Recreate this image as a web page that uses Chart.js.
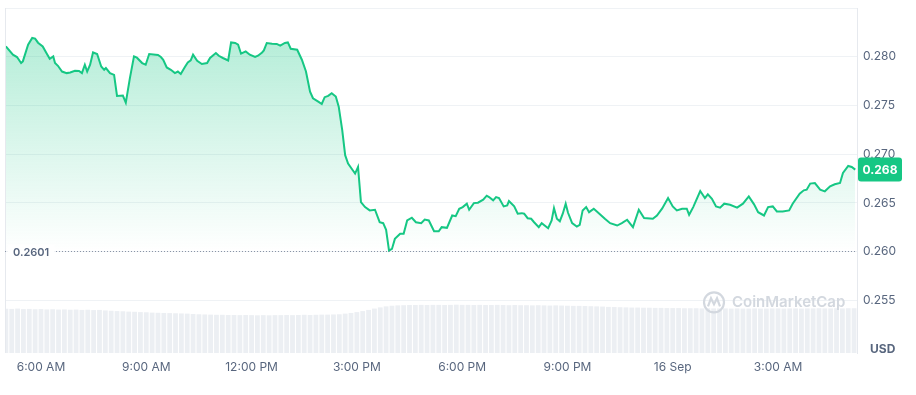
<!DOCTYPE html>
<html lang="en">
<head>
	<meta charset="UTF-8">
	<title>Price chart</title>
	<script src="https://cdn.jsdelivr.net/npm/chart.js"></script>
	<style>
		body { margin: 0; background: #fff; }
		#wrap { width: 916px; height: 395px; }
	</style>
</head>
<body>
	<div id="wrap"><canvas id="priceChart"></canvas></div>
	<script>
		// minutes since 00:00 on 15 Sep
		const priceTimes = [300,312,319,326,329,338,345,350,355,363,370,375,381,384,389,396,404,410,418,425,430,435,439,444,449,456,463,468,471,478,485,490,500,505,512,519,524,533,539,545,560,565,569,575,582,589,594,599,606,611,616,620,627,635,644,649,659,664,671,680,685,692,697,702,710,717,726,731,738,741,746,755,763,769,777,782,787,798,806,813,820,825,834,840,845,851,857,864,869,875,880,885,893,897,902,907,914,922,931,939,945,950,955,960,965,974,980,986,994,1001,1010,1016,1023,1032,1040,1045,1054,1063,1069,1075,1081,1088,1092,1100,1107,1116,1122,1126,1133,1138,1143,1151,1157,1160,1169,1175,1182,1186,1192,1198,1203,1211,1216,1227,1233,1237,1242,1247,1252,1257,1261,1268,1276,1281,1286,1292,1297,1305,1316,1324,1333,1345,1353,1362,1372,1382,1391,1406,1413,1422,1432,1440,1447,1456,1464,1468,1475,1487,1495,1500,1507,1514,1521,1528,1538,1550,1560,1570,1579,1586,1596,1603,1611,1618,1628,1639,1645,1657,1664,1669,1675,1683,1692,1700,1709,1717,1726,1731,1740,1746,1752];
		const prices = [0.28106,0.28021,0.27997,0.27935,0.27952,0.28124,0.28193,0.28186,0.28144,0.28106,0.28031,0.27979,0.28003,0.27935,0.27907,0.27848,0.27832,0.27838,0.27856,0.27853,0.27832,0.27918,0.27848,0.27918,0.28044,0.28028,0.27900,0.27866,0.27884,0.27832,0.27814,0.27598,0.27601,0.27529,0.27780,0.28003,0.27990,0.27935,0.27918,0.28028,0.28018,0.27997,0.27969,0.27890,0.27866,0.27832,0.27848,0.27822,0.27894,0.27941,0.27962,0.28021,0.27959,0.27925,0.27935,0.27987,0.28038,0.28010,0.27987,0.27962,0.28147,0.28141,0.28124,0.28031,0.28055,0.28021,0.27997,0.28010,0.28044,0.28065,0.28141,0.28134,0.28131,0.28113,0.28141,0.28147,0.28082,0.28072,0.27969,0.27848,0.27642,0.27574,0.27539,0.27515,0.27585,0.27598,0.27626,0.27591,0.27488,0.27247,0.26990,0.26904,0.26835,0.26801,0.26869,0.26508,0.26457,0.26423,0.26430,0.26302,0.26292,0.26224,0.26010,0.26028,0.26131,0.26183,0.26183,0.26320,0.26348,0.26302,0.26292,0.26330,0.26320,0.26209,0.26209,0.26251,0.26244,0.26371,0.26364,0.26440,0.26457,0.26492,0.26430,0.26498,0.26502,0.26533,0.26574,0.26560,0.26526,0.26560,0.26550,0.26464,0.26474,0.26519,0.26464,0.26389,0.26395,0.26389,0.26343,0.26337,0.26302,0.26251,0.26292,0.26240,0.26320,0.26446,0.26337,0.26312,0.26389,0.26492,0.26399,0.26292,0.26258,0.26275,0.26423,0.26457,0.26405,0.26440,0.26382,0.26337,0.26292,0.26268,0.26292,0.26327,0.26251,0.26430,0.26345,0.26337,0.26371,0.26443,0.26550,0.26464,0.26423,0.26440,0.26440,0.26378,0.26457,0.26622,0.26550,0.26588,0.26543,0.26464,0.26451,0.26492,0.26481,0.26451,0.26492,0.26567,0.26485,0.26405,0.26371,0.26457,0.26464,0.26412,0.26412,0.26423,0.26492,0.26595,0.26629,0.26636,0.26698,0.26704,0.26636,0.26619,0.26670,0.26691,0.26704,0.26807,0.26879,0.26869,0.26842];

		// volume (millions USD) per 10 minutes, starting 05:00
		const volStart = 300;
		const volStep = 10;
		const volumes = [26.3,26.2,26.4,26.1,26.2,26.0,26.1,25.9,26.0,25.8,25.9,25.7,25.8,25.6,25.7,25.5,25.6,
			25.3,25.1,24.9,24.8,24.6,24.5,24.3,24.2,24.0,23.9,23.8,23.7,23.6,23.5,23.4,
			23.2,23.0,22.9,22.8,22.7,22.7,22.6,22.6,22.5,22.6,22.5,22.4,22.5,22.4,22.5,22.5,22.6,22.5,22.6,22.7,22.6,22.7,22.8,22.8,22.9,23.0,
			23.4,23.8,24.3,24.9,25.6,26.4,27.1,27.7,28.1,
			28.3,28.4,28.5,28.5,28.6,28.5,28.6,28.6,28.5,28.6,28.7,28.6,28.6,28.5,28.6,28.5,28.5,28.6,28.5,28.4,28.5,28.4,28.4,28.3,28.4,28.3,28.2,28.3,28.2,28.1,28.0,28.0,27.9,27.8,27.7,27.6,
			27.4,27.3,27.2,27.1,27.0,27.0,26.9,26.9,26.8,26.8,26.7,26.7,26.7,26.6,26.6,26.6,26.5,26.6,26.5,26.5,26.5,26.4,26.5,26.4,26.4,26.5,26.4,26.4,26.5,26.5,26.4,26.5,26.5,26.4,26.5,26.5,26.6,26.5,26.5,26.6,26.5,26.6,26.6];

		const xTickValues = [360, 540, 720, 900, 1080, 1260, 1440, 1620];
		const xTickLabels = ['6:00 AM', '9:00 AM', '12:00 PM', '3:00 PM', '6:00 PM', '9:00 PM', '16 Sep', '3:00 AM'];
		const yTickValues = [0.255, 0.260, 0.265, 0.270, 0.275, 0.280, 0.285];

		const green = '#16c784';
		const gray = '#58667e';
		const minPrice = Math.min(...prices);
		const lastPrice = prices[prices.length - 1];

		const priceData = priceTimes.map((t, i) => ({ x: t, y: prices[i] }));
		const volData = volumes.map((v, i) => ({ x: volStart + i * volStep, y: v }));

		const extras = {
			id: 'extras',
			afterDatasetsDraw(chart) {
				const { ctx, chartArea, scales } = chart;
				ctx.save();
				// left border
				ctx.strokeStyle = '#e6e9ee';
				ctx.lineWidth = 1;
				ctx.beginPath();
				ctx.moveTo(chartArea.left + 0.5, chartArea.top);
				ctx.lineTo(chartArea.left + 0.5, chartArea.bottom);
				ctx.stroke();

				// watermark
				const wy = scales.y.getPixelForValue(0.255) + 2;
				ctx.strokeStyle = '#d3d8df';
				ctx.lineWidth = 2.2;
				ctx.beginPath();
				ctx.arc(714, wy, 10, 0, Math.PI * 2);
				ctx.stroke();
				ctx.beginPath();
				ctx.moveTo(708, wy + 4);
				ctx.lineTo(711, wy - 4);
				ctx.lineTo(714, wy + 2);
				ctx.lineTo(717, wy - 4);
				ctx.lineTo(720, wy + 4);
				ctx.stroke();
				ctx.fillStyle = '#d3d8df';
				ctx.font = '600 15px Inter';
				ctx.textBaseline = 'middle';
				ctx.textAlign = 'left';
				ctx.fillText('CoinMarketCap', 732, wy);

				// minimum dotted line and label
				const my = Math.round(scales.y.getPixelForValue(minPrice)) + 0.5;
				ctx.strokeStyle = '#8a94a6';
				ctx.lineWidth = 1;
				ctx.setLineDash([1, 2]);
				ctx.beginPath();
				ctx.moveTo(chartArea.left, my);
				ctx.lineTo(chartArea.right, my);
				ctx.stroke();
				ctx.setLineDash([]);
				ctx.font = '600 11px Inter';
				const minText = minPrice.toFixed(4);
				const mw = ctx.measureText(minText).width;
				ctx.fillStyle = '#fff';
				ctx.fillRect(chartArea.left + 3, my - 7, mw + 10, 14);
				ctx.fillStyle = gray;
				ctx.fillText(minText, chartArea.left + 8, my + 1);

				// last price badge
				const ly = scales.y.getPixelForValue(lastPrice);
				const bx = chartArea.right + 1, bw = 44, bh = 24;
				ctx.fillStyle = green;
				ctx.beginPath();
				ctx.roundRect(bx, ly - bh / 2, bw, bh, 3);
				ctx.fill();
				ctx.fillStyle = '#fff';
				ctx.font = 'bold 12px Inter';
				ctx.textAlign = 'center';
				ctx.fillText(lastPrice.toFixed(3), bx + bw / 2, ly + 1);

				// currency label
				ctx.fillStyle = gray;
				ctx.font = 'bold 12px Inter';
				ctx.textAlign = 'left';
				ctx.fillText('USD', 870, chartArea.bottom - 4);
				ctx.restore();
			}
		};

		const ctx = document.getElementById('priceChart').getContext('2d');
		const priceChart = new Chart(ctx, {
			data: {
				datasets: [{
					type: 'line',
					label: 'Price',
					data: priceData,
					yAxisID: 'y',
					borderColor: green,
					borderWidth: 2,
					pointRadius: 0,
					tension: 0,
					fill: 'start',
					order: 1,
					backgroundColor: function (c) {
						const chart = c.chart;
						const area = chart.chartArea;
						if (!area) return 'rgba(22,199,132,0.2)';
						const g = chart.ctx.createLinearGradient(0, area.top, 0, chart.scales.y.getPixelForValue(minPrice));
						g.addColorStop(0, 'rgba(22,199,132,0.36)');
						g.addColorStop(1, 'rgba(22,199,132,0)');
						return g;
					}
				}, {
					type: 'bar',
					label: 'Volume',
					data: volData,
					yAxisID: 'yVol',
					backgroundColor: '#eceff3',
					barPercentage: 1,
					categoryPercentage: 0.82,
					order: 2
				}]
			},
			options: {
				responsive: true,
				maintainAspectRatio: false,
				animation: false,
				layout: { padding: { top: 8, left: 5, right: 0, bottom: 0 } },
				plugins: { legend: { display: false }, tooltip: { enabled: false } },
				scales: {
					x: {
						type: 'linear',
						offset: false,
						min: 298.5,
						max: 1755,
						afterBuildTicks: s => { s.ticks = xTickValues.map(v => ({ value: v })); },
						afterFit: s => { s.height = 42; s.paddingLeft = 0; s.paddingRight = 0; },
						grid: { display: false, drawTicks: false, offset: false },
						border: { display: false },
						ticks: {
							autoSkip: false,
							maxRotation: 0,
							padding: 7,
							color: gray,
							font: { family: 'Inter', size: 12 },
							callback: (v) => xTickLabels[xTickValues.indexOf(v)]
						}
					},
					y: {
						position: 'right',
						min: 0.2496,
						max: 0.285,
						afterBuildTicks: s => { s.ticks = yTickValues.map(v => ({ value: v })); },
						afterFit: s => { s.width = 59; s.paddingTop = 0; s.paddingBottom = 0; },
						grid: { color: '#eff2f5', drawTicks: false },
						border: { display: true, color: '#e6e9ee' },
						ticks: {
							padding: 6,
							color: gray,
							font: { family: 'Inter', size: 12 },
							callback: (v) => v >= 0.2849 ? '' : v.toFixed(3)
						}
					},
					yVol: {
						display: false,
						min: 0,
						max: 205
					}
				}
			},
			plugins: [extras]
		});
	</script>
</body>
</html>
